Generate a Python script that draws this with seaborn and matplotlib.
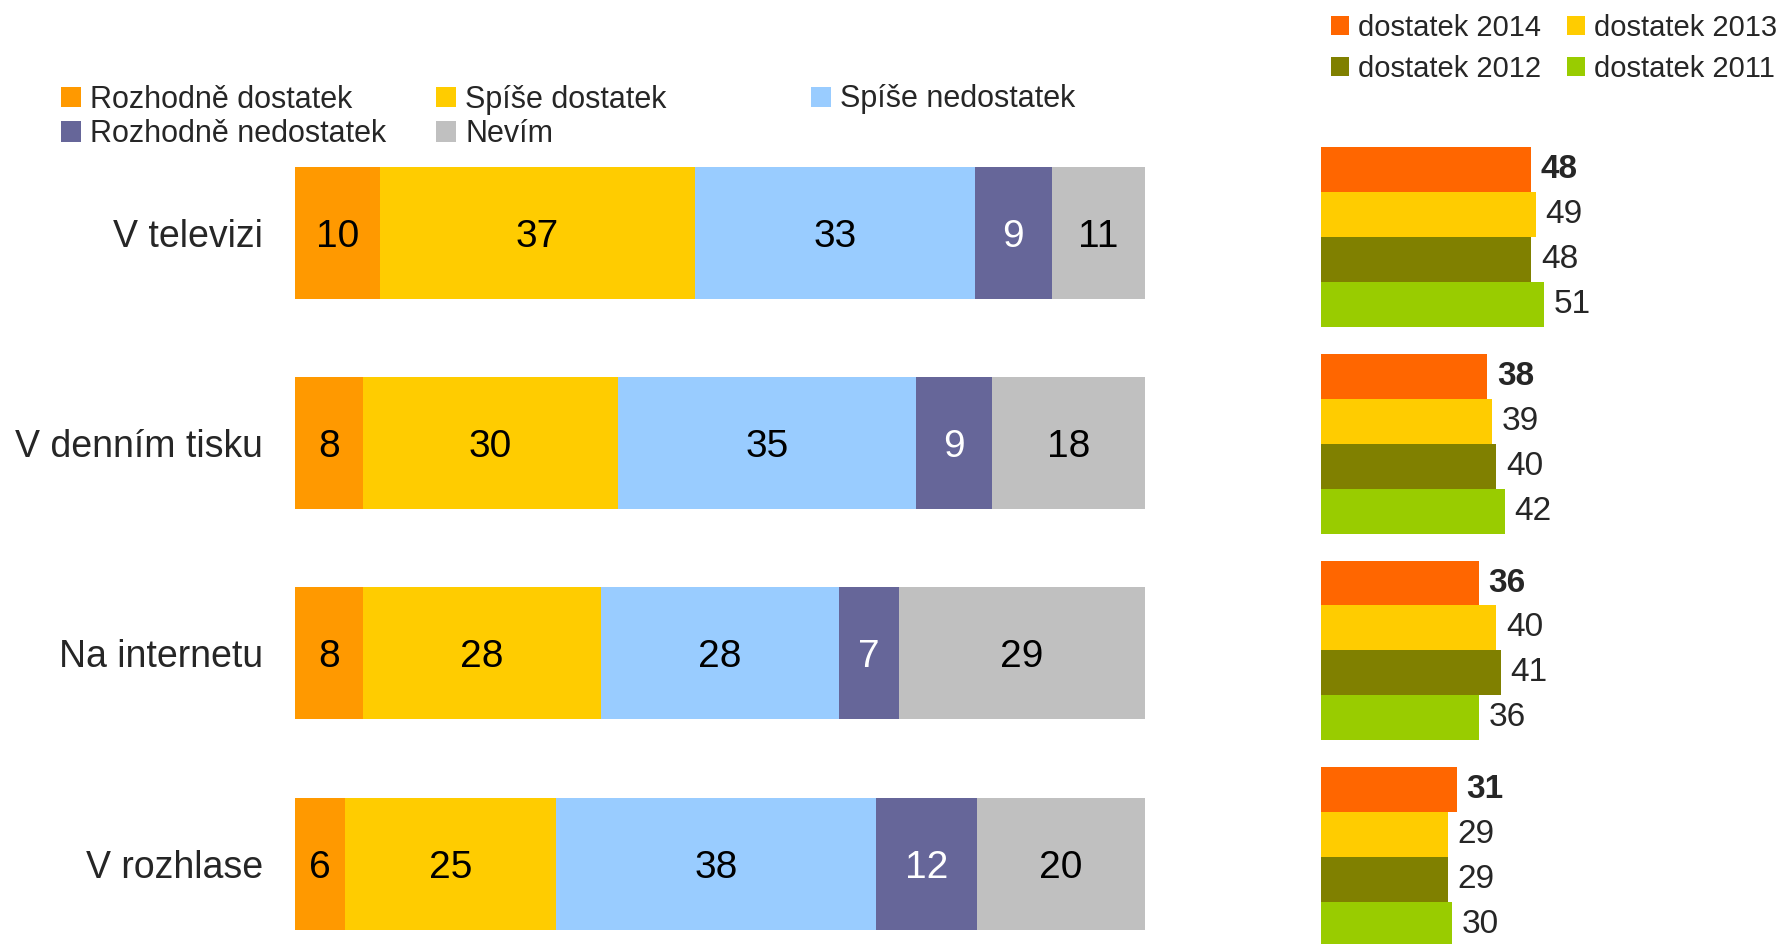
import numpy as np
import pandas as pd
import matplotlib
matplotlib.use('Agg')
import matplotlib.pyplot as plt
import matplotlib.patches as mpatches
import seaborn as sns

# ---------------- data ----------------
categories = ['V televizi', 'V denním tisku', 'Na internetu', 'V rozhlase']

segment_names = ['Rozhodně dostatek', 'Spíše dostatek', 'Spíše nedostatek',
                 'Rozhodně nedostatek', 'Nevím']
rozhodne_dostatek = [10, 8, 8, 6]
spise_dostatek = [37, 30, 28, 25]
spise_nedostatek = [33, 35, 28, 38]
rozhodne_nedostatek = [9, 9, 7, 12]
nevim = [11, 18, 29, 20]

years = ['dostatek 2014', 'dostatek 2013', 'dostatek 2012', 'dostatek 2011']
dostatek_2014 = [48, 38, 36, 31]
dostatek_2013 = [49, 39, 40, 29]
dostatek_2012 = [48, 40, 41, 29]
dostatek_2011 = [51, 42, 36, 30]

# ---------------- styles ----------------
segment_colors = ['#FF9900', '#FFCC00', '#99CCFF', '#666699', '#C0C0C0']
segment_text_colors = ['black', 'black', 'black', 'white', 'black']
year_colors = ['#FF6600', '#FFCC00', '#808000', '#99CC00']

sns.set_theme(style='white')
plt.rcParams['font.family'] = ['Liberation Sans', 'DejaVu Sans']

W, H = 1777, 944
fig = plt.figure(figsize=(W / 100, H / 100), dpi=100)
fig.patch.set_facecolor('white')

# ---------------- left stacked chart ----------------
seg = np.array([rozhodne_dostatek, spise_dostatek, spise_nedostatek,
                rozhodne_nedostatek, nevim], dtype=float)
shares = seg / seg.sum(axis=0) * 100
cum = shares.cumsum(axis=0)

row_top = 127.9
row_step = 210.2
ax1 = fig.add_axes([295 / W, (H - (row_top + 4 * row_step)) / H, 850 / W, 4 * row_step / H])
for i in reversed(range(len(segment_names))):
    df = pd.DataFrame({'cat': categories, 'val': cum[i]})
    sns.barplot(data=df, x='val', y='cat', orient='h', color=segment_colors[i],
                saturation=1, width=0.628, linewidth=0, ax=ax1, errorbar=None)
for i in range(len(segment_names)):
    for j in range(len(categories)):
        ax1.text(cum[i, j] - shares[i, j] / 2, j, f'{int(seg[i, j])}',
                 ha='center', va='center_baseline', fontsize=28,
                 color=segment_text_colors[i])
ax1.set_xlim(0, 100)
ax1.set_ylim(3.5, -0.5)
ax1.set_xticks([])
ax1.set_xlabel('')
ax1.set_ylabel('')
ax1.tick_params(axis='y', length=0, pad=23, labelsize=27)
for s in ax1.spines.values():
    s.set_visible(False)
ax1.set_facecolor('none')

# ---------------- right grouped chart ----------------
year_values = [dostatek_2014, dostatek_2013, dostatek_2012, dostatek_2011]
df2 = pd.DataFrame({
    'cat': np.repeat(categories, len(years)),
    'year': years * len(categories),
    'val': [year_values[k][j] for j in range(len(categories)) for k in range(len(years))],
})
g_top = 133.7
g_step = 206.7
ax2 = fig.add_axes([1321 / W, (H - (g_top + 4 * g_step)) / H, 438 / W, 4 * g_step / H])
sns.barplot(data=df2, x='val', y='cat', hue='year', hue_order=years, orient='h',
            palette=year_colors, saturation=1, width=0.87, gap=0, linewidth=0,
            ax=ax2, legend=False, errorbar=None)
for k, cont in enumerate(ax2.containers):
    ax2.bar_label(cont, fmt='%d', padding=7, fontsize=24,
                  fontweight='bold' if k == 0 else 'normal')
ax2.set_xlim(0, 100)
ax2.set_ylim(3.5, -0.5)
ax2.set_xticks([])
ax2.set_yticks([])
ax2.set_xlabel('')
ax2.set_ylabel('')
for s in ax2.spines.values():
    s.set_visible(False)
ax2.set_facecolor('none')

# ---------------- legends ----------------
def column_legend(names, colors, x_px, yc_px, fs, hl, ls):
    handles = [mpatches.Patch(facecolor=c, edgecolor='none', label=n)
               for n, c in zip(names, colors)]
    leg = fig.legend(handles=handles, loc='center left',
                     bbox_to_anchor=(x_px / W, 1 - yc_px / H),
                     frameon=False, fontsize=fs, borderpad=0, borderaxespad=0,
                     handlelength=hl, handleheight=hl, handletextpad=0.3,
                     labelspacing=ls)
    return leg

column_legend([segment_names[0], segment_names[3]], [segment_colors[0], segment_colors[3]],
              61, 117, 22, 0.65, 0.15)
column_legend([segment_names[1], segment_names[4]], [segment_colors[1], segment_colors[4]],
              436, 117, 22, 0.65, 0.15)
column_legend([segment_names[2]], [segment_colors[2]], 811, 99.5, 22, 0.65, 0.15)

column_legend([years[0], years[2]], [year_colors[0], year_colors[2]],
              1331, 48.5, 21, 0.62, 0.45)
column_legend([years[1], years[3]], [year_colors[1], year_colors[3]],
              1567, 48.5, 21, 0.62, 0.45)

fig.savefig('out.png', dpi=100, facecolor='white')
